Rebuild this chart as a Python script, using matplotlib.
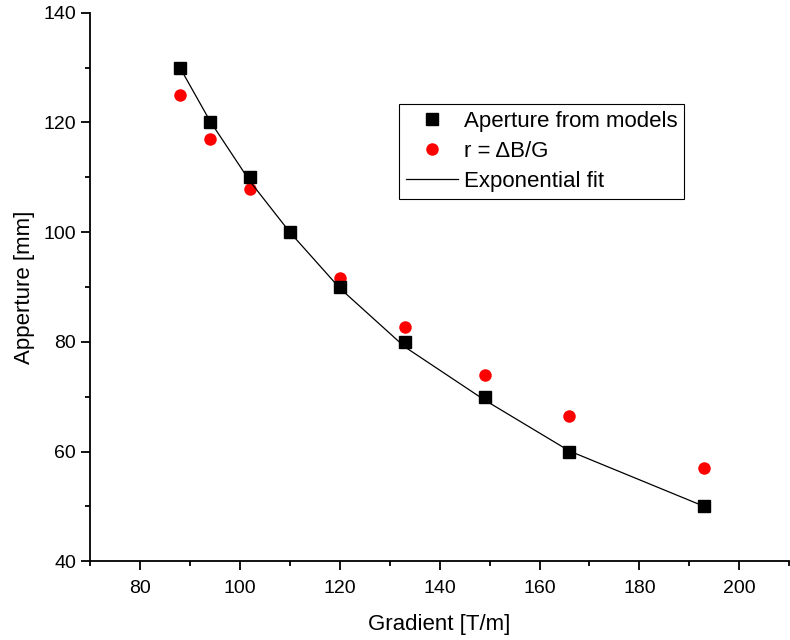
import matplotlib.pyplot as plt
from matplotlib.ticker import MultipleLocator

plt.rcParams['font.family'] = ['Liberation Sans', 'DejaVu Sans']

gradient = [88, 94, 102, 110, 120, 133, 149, 166, 193]
aperture_models = [130, 120, 110, 100, 90, 80, 70, 60, 50]
r_dbg = [125.0, 117.0, 107.9, 100.0, 91.6, 82.7, 73.9, 66.4, 57.0]
exp_fit = [130.0, 120.3, 109.3, 100.0, 89.8, 79.1, 69.4, 60.1, 50.0]

fig = plt.figure(figsize=(7.9, 6.4), dpi=100)
ax = fig.add_axes([0.114, 0.123, 0.885, 0.857])

ax.plot(gradient, aperture_models, 's', color='black', ms=8.5, label='Aperture from models', zorder=3)
ax.plot(gradient, r_dbg, 'o', color='red', ms=9, mec='none', label='r = ΔB/G', zorder=2)
ax.plot(gradient, exp_fit, '-', color='black', lw=0.9, label='Exponential fit', zorder=4)

ax.set_xlim(70, 210)
ax.set_ylim(40, 140)
ax.xaxis.set_major_locator(MultipleLocator(20))
ax.xaxis.set_minor_locator(MultipleLocator(10))
ax.yaxis.set_major_locator(MultipleLocator(20))
ax.yaxis.set_minor_locator(MultipleLocator(10))
ax.set_xticks([80, 100, 120, 140, 160, 180, 200])
ax.tick_params(which='major', direction='out', length=6.5, width=1.3, labelsize=14)
ax.tick_params(which='minor', direction='out', length=3.5, width=1.3)
ax.tick_params(axis='x', which='major', pad=7)
ax.spines['top'].set_visible(False)
ax.spines['right'].set_visible(False)
ax.spines['left'].set_linewidth(1.3)
ax.spines['bottom'].set_linewidth(1.3)

ax.set_xlabel('Gradient [T/m]', fontsize=16, labelpad=12)
ax.set_ylabel('Apperture [mm]', fontsize=16, labelpad=6)

leg = ax.legend(loc='upper left', bbox_to_anchor=(0.442, 0.834), fontsize=16,
                frameon=True, fancybox=False, edgecolor='black', framealpha=1,
                handlelength=2.35, borderpad=0.3, labelspacing=0.42, handletextpad=0.25,
                borderaxespad=0)
leg.get_frame().set_linewidth(0.8)

plt.savefig('out.png', dpi=100)
